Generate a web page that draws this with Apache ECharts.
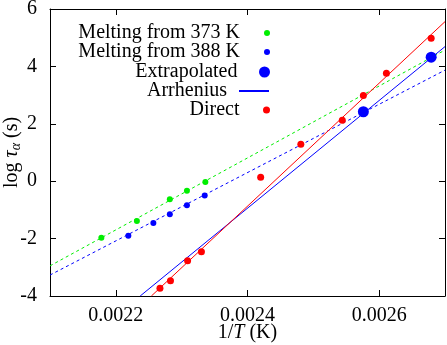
<!DOCTYPE html>
<html>
<head>
<meta charset="utf-8">
<script src="https://cdn.jsdelivr.net/npm/echarts@6/dist/echarts.min.js"></script>
<style>
  html, body { margin: 0; padding: 0; background: #fff; }
  #chart { width: 447px; height: 345px; }
</style>
</head>
<body>
<div id="chart"></div>
<script>
// melting runs (1/T, log tau)
const melt373X = [0.002178, 0.002232, 0.002282, 0.002308, 0.002336];
const melt373Y = [-1.97, -1.39, -0.63, -0.33, -0.03];
const melt388X = [0.002219, 0.002257, 0.002282, 0.002308, 0.002335];
const melt388Y = [-1.9, -1.46, -1.15, -0.84, -0.5];
const extrapX = [0.002576, 0.002679];
const extrapY = [2.42, 4.32];
const directX = [0.002267, 0.002283, 0.002309, 0.00233, 0.00242, 0.002481, 0.002544, 0.002576, 0.002611, 0.002679];
const directY = [-3.73, -3.47, -2.77, -2.46, 0.14, 1.29, 2.12, 2.99, 3.76, 4.98];

// fitted lines, end points
const fit373X = [0.0021, 0.0027];
const fit373Y = [-2.95, 4.57];
const fit388X = [0.0021, 0.0027];
const fit388Y = [-3.27, 3.87];
const arrheniusX = [0.002237, 0.0027];
const arrheniusY = [-4, 4.69];
const directFitX = [0.002254, 0.0027];
const directFitY = [-4, 5.56];

const xTicks = [0.0022, 0.0024, 0.0026];

const FONT = "Liberation Serif";
const FS = 20;
const zip = (xs, ys) => xs.map((x, i) => [x, ys[i]]);

const chart = echarts.init(document.getElementById("chart"));

// one legend per row so text is right aligned and icons line up
const legendRows = [
  { name: "Melting from 373 K", h: 6 },
  { name: "Melting from 388 K", h: 6 },
  { name: "Extrapolated", h: 11 },
  { name: "Arrhenius", h: 1 },
  { name: "Direct", h: 7 },
];
const rowCenters = [33, 52, 72, 91, 110];
const legends = legendRows.map((r, i) => ({
  data: [r.name],
  orient: "vertical",
  align: "right",
  right: 177,
  top: rowCenters[i] - 10,
  padding: 0,
  itemWidth: 30,
  itemHeight: r.h,
  selectedMode: false,
  textStyle: {
    fontFamily: FONT,
    fontSize: FS,
    lineHeight: 20,
    color: "#000",
    padding: [0, 7, 0, 0],
  },
}));

const boxAxis = { show: true, onZero: false, lineStyle: { color: "#000", width: 1 } };
const inTick = { show: true, inside: true, length: 6, lineStyle: { color: "#000" } };

const option = {
  animation: false,
  backgroundColor: "#fff",
  legend: legends,
  grid: { left: 50, right: 2, top: 9, bottom: 49, outerBoundsMode: "none", containLabel: false },
  xAxis: [
    {
      type: "value",
      min: 0.0021,
      max: 0.0027,
      name: "{n|1/}{i|T}{n| (K)}",
      nameLocation: "middle",
      nameGap: 27,
      nameMoveOverlap: false,
      nameTextStyle: {
        rich: {
          n: { fontFamily: FONT, fontSize: FS, color: "#000" },
          i: { fontFamily: FONT, fontSize: FS, fontStyle: "italic", color: "#000" },
        },
      },
      axisLine: boxAxis,
      axisTick: { ...inTick, customValues: xTicks },
      axisLabel: {
        customValues: xTicks,
        margin: 10,
        fontFamily: FONT,
        fontSize: FS,
        color: "#000",
        formatter: (v) => v.toFixed(4),
      },
      splitLine: { show: false },
    },
    {
      type: "value",
      position: "top",
      min: 0.0021,
      max: 0.0027,
      axisLine: boxAxis,
      axisTick: { ...inTick, customValues: xTicks },
      axisLabel: { show: false },
      splitLine: { show: false },
    },
  ],
  yAxis: [
    {
      type: "value",
      min: -4,
      max: 6,
      interval: 2,
      name: "{n|log }{i|τ}{s|α}{n| (s)}",
      nameLocation: "middle",
      nameGap: 27,
      nameMoveOverlap: false,
      nameTextStyle: {
        rich: {
          n: { fontFamily: FONT, fontSize: FS, color: "#000", lineHeight: 22 },
          i: { fontFamily: FONT, fontSize: FS, fontStyle: "italic", color: "#000", lineHeight: 22 },
          s: { fontFamily: FONT, fontSize: 14, fontStyle: "italic", color: "#000", verticalAlign: "bottom", lineHeight: 13 },
        },
      },
      axisLine: boxAxis,
      axisTick: inTick,
      axisLabel: { margin: 13, fontFamily: FONT, fontSize: FS, color: "#000" },
      splitLine: { show: false },
    },
    {
      type: "value",
      position: "right",
      min: -4,
      max: 6,
      interval: 2,
      axisLine: boxAxis,
      axisTick: inTick,
      axisLabel: { show: false },
      splitLine: { show: false },
    },
  ],
  series: [
    {
      name: "fit373",
      type: "line",
      data: zip(fit373X, fit373Y),
      symbol: "none",
      lineStyle: { color: "#00ee00", width: 1, type: [3, 3] },
    },
    {
      name: "fit388",
      type: "line",
      data: zip(fit388X, fit388Y),
      symbol: "none",
      lineStyle: { color: "#0000ff", width: 1, type: [3, 3] },
    },
    {
      name: "Arrhenius",
      type: "line",
      data: zip(arrheniusX, arrheniusY),
      symbol: "none",
      itemStyle: { color: "#0000ff" },
      lineStyle: { color: "#0000ff", width: 1 },
    },
    {
      name: "directFit",
      type: "line",
      data: zip(directFitX, directFitY),
      symbol: "none",
      lineStyle: { color: "#ff0000", width: 1 },
    },
    {
      name: "Melting from 373 K",
      type: "scatter",
      data: zip(melt373X, melt373Y),
      symbolSize: 6,
      itemStyle: { color: "#00ee00", opacity: 1 },
      z: 3,
    },
    {
      name: "Melting from 388 K",
      type: "scatter",
      data: zip(melt388X, melt388Y),
      symbolSize: 6,
      itemStyle: { color: "#0000ff", opacity: 1 },
      z: 3,
    },
    {
      name: "Extrapolated",
      type: "scatter",
      data: zip(extrapX, extrapY),
      symbolSize: 11,
      itemStyle: { color: "#0000ff", opacity: 1 },
      z: 3,
    },
    {
      name: "Direct",
      type: "scatter",
      data: zip(directX, directY),
      symbolSize: 7,
      itemStyle: { color: "#ff0000", opacity: 1 },
      z: 3,
    },
  ],
};

chart.setOption(option);
</script>
</body>
</html>
